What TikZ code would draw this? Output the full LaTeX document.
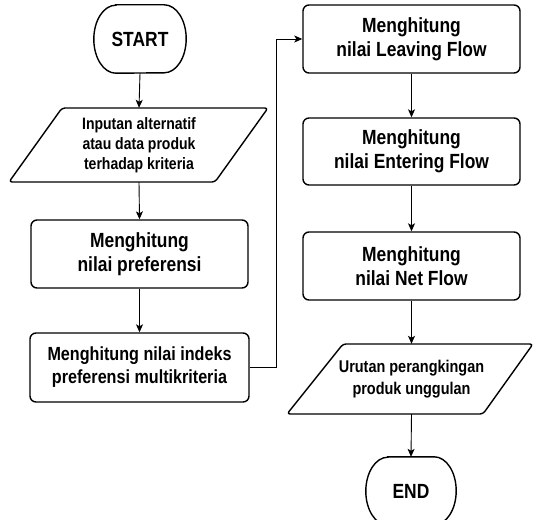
\documentclass[tikz,border=0pt]{standalone}
\usepackage{fontspec}
\newfontfamily\lbl{Liberation Sans}[FakeStretch=0.85]
\usetikzlibrary{arrows.meta,calc}
\begin{document}
\begin{tikzpicture}[x=1pt,y=1pt,
  box/.style={draw, line width=1.4pt, rounded corners=6pt, minimum width=217pt,
    minimum height=68pt, align=center, inner sep=0pt,
    font=\lbl\bfseries\fontsize{20.5}{24}\selectfont},
  termtxt/.style={minimum width=92pt, minimum height=68pt, inner sep=0pt,
    font=\lbl\bfseries\fontsize{20.5}{24}\selectfont},
  iotxt/.style={align=center, inner sep=0pt},
  conn/.style={line width=0.9pt, -{Stealth[length=8pt,width=7pt,inset=2pt]}},
  shp/.style={line width=1.4pt, rounded corners=3pt, line join=round}
]
\useasboundingbox (0,0) rectangle (534,-519);

% START
\node[termtxt] (start) at (140,-39) {START};
\draw[line width=1.4pt] ($(start.north west)+(22,0)$) -- ($(start.north east)+(-22,0)$)
  arc[start angle=90, end angle=-90, x radius=22pt, y radius=34pt]
  -- ($(start.south west)+(22,0)$)
  arc[start angle=270, end angle=90, x radius=22pt, y radius=34pt] -- cycle;

% Input parallelogram
\node[iotxt, minimum height=74pt, font=\lbl\bfseries\fontsize{16.5}{20}\selectfont] (inp) at (139,-145)
  {Inputan alternatif\\atau data produk\\terhadap kriteria};
\draw[shp] ($(inp.center)+(-77,37)$) -- ++(206,0) -- ++(-53,-74) -- ++(-206,0) -- cycle;

% Process boxes left
\node[box] (pref) at (139.5,-254) {Menghitung\\nilai preferensi};
\node[box, minimum width=219pt, minimum height=69pt,
  font=\lbl\bfseries\fontsize{19}{23}\selectfont] (idx) at (139.5,-367.5)
  {Menghitung nilai indeks\\preferensi multikriteria};

% Process boxes right
\node[box] (leave) at (411.5,-39) {Menghitung\\nilai Leaving Flow};
\node[box, minimum height=67pt] (enter) at (411.5,-151.5) {Menghitung\\nilai Entering Flow};
\node[box] (net) at (411.5,-266) {Menghitung\\nilai Net Flow};

% Output parallelogram
\node[iotxt, minimum height=70pt, font=\lbl\bfseries\fontsize{17}{22}\selectfont] (out) at (411.5,-379)
  {Urutan perangkingan\\produk unggulan};
\draw[shp] ($(out.center)+(-68.5,35)$) -- ++(190,0) -- ++(-50,-70) -- ++(-196,0) -- cycle;

% END
\node[termtxt, minimum width=90pt] (end) at (411,-491) {END};
\draw[line width=1.4pt] ($(end.north west)+(22,0)$) -- ($(end.north east)+(-22,0)$)
  arc[start angle=90, end angle=-90, x radius=22pt, y radius=34pt]
  -- ($(end.south west)+(22,0)$)
  arc[start angle=270, end angle=90, x radius=22pt, y radius=34pt] -- cycle;

% Connectors
\draw[conn] (start.south) -- (inp.north);
\draw[conn] (inp.south) -- (pref.north);
\draw[conn] (pref.south) -- (idx.north);
\draw[conn] (idx.east) -- ++(27,0) |- (leave.west);
\draw[conn] (leave.south) -- (enter.north);
\draw[conn] (enter.south) -- (net.north);
\draw[conn] (net.south) -- (out.north);
\draw[conn] (out.south) -- (end.north);
\end{tikzpicture}
\end{document}
